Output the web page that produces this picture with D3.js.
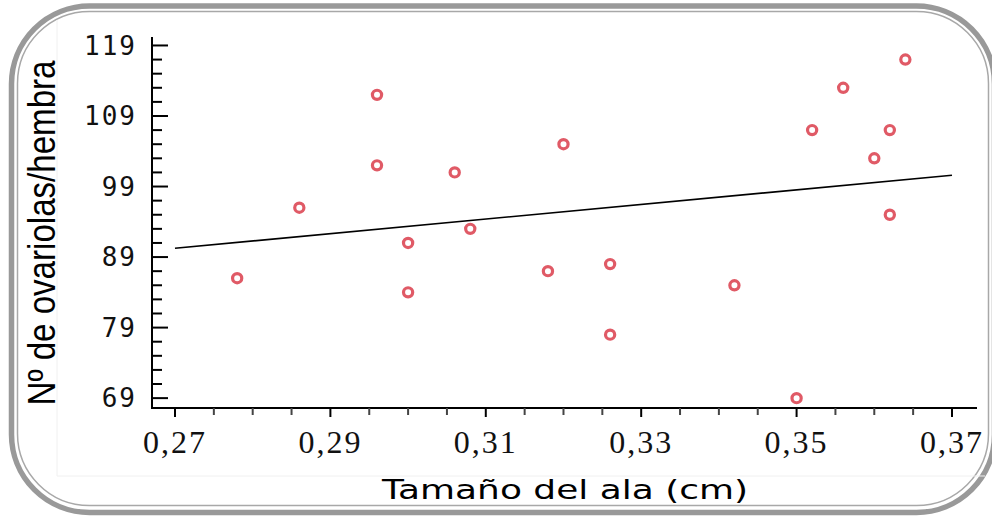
<!DOCTYPE html>
<html>
<head>
<meta charset="utf-8">
<script src="https://cdn.jsdelivr.net/npm/d3@7/dist/d3.min.js"></script>
<style>
  html, body { margin: 0; padding: 0; background: #fff; }
  svg { display: block; }
</style>
</head>
<body>
<svg id="chart"></svg>
<script>
// wing size (cm) vs ovarioles per female
const wingSize = [0.278, 0.286, 0.296, 0.296, 0.300, 0.300, 0.306, 0.308, 0.318, 0.320,
                  0.326, 0.326, 0.342, 0.350, 0.352, 0.356, 0.360, 0.362, 0.362, 0.364];
const ovarioles = [86, 96, 112, 102, 91, 84, 101, 93, 87, 105,
                   88, 78, 85, 69, 107, 113, 103, 107, 95, 117];
// fitted line, read at both ends
const fitX = [0.27, 0.37];
const fitY = [90.25, 100.6];
const yTicks = [69, 79, 89, 99, 109, 119];
const xTicks = [0.27, 0.29, 0.31, 0.33, 0.35, 0.37];

const width = 992, height = 517;
const svg = d3.select("#chart").attr("width", width).attr("height", height);

// rounded double frame
svg.append("rect")
    .attr("x", 11.5).attr("y", 6).attr("width", 983).attr("height", 506.5)
    .attr("rx", 78).attr("ry", 78)
    .attr("fill", "none").attr("stroke", "#999").attr("stroke-width", 5.5);
svg.append("rect")
    .attr("x", 17.5).attr("y", 11.5).attr("width", 971).attr("height", 494)
    .attr("rx", 72).attr("ry", 72)
    .attr("fill", "none").attr("stroke", "#a8a8a8").attr("stroke-width", 1.5);

// faint edge of the pasted chart image
svg.append("path")
    .attr("d", "M57,20 V476 H985")
    .attr("fill", "none").attr("stroke", "#f0f0f0").attr("stroke-width", 1);

const x = d3.scaleLinear().domain([0.26704, 0.37322]).range([152, 977]);
const y = d3.scaleLinear().domain([67.6, 120.2]).range([408, 37]);

// axis lines
svg.append("line")
    .attr("x1", x.range()[0]).attr("x2", x.range()[0])
    .attr("y1", y.range()[1]).attr("y2", y.range()[0])
    .attr("stroke", "#000").attr("stroke-width", 2);
svg.append("line")
    .attr("x1", x.range()[0] - 1).attr("x2", x.range()[1])
    .attr("y1", y.range()[0]).attr("y2", y.range()[0])
    .attr("stroke", "#000").attr("stroke-width", 2);

// y ticks: every 2, major every 10
const yMinor = d3.range(69, 119.5, 2);
svg.append("g").selectAll("line").data(yMinor).join("line")
    .attr("x1", x.range()[0])
    .attr("x2", d => x.range()[0] + (yTicks.includes(d) ? 16 : 10))
    .attr("y1", d => y(d)).attr("y2", d => y(d))
    .attr("stroke", "#000").attr("stroke-width", 2);

svg.append("g").selectAll("text").data(yTicks).join("text")
    .attr("x", 137).attr("y", d => y(d))
    .attr("dy", "0.36em")
    .attr("text-anchor", "end")
    .attr("font-family", "'DejaVu Sans Mono', monospace")
    .attr("font-size", 26)
    .attr("letter-spacing", 2)
    .attr("fill", "#111")
    .text(d => d);

// x ticks: every 0.005, labelled every 0.02
const xMinor = d3.range(0, 21).map(i => +(0.27 + i * 0.005).toFixed(3));
const isMajor = d => xTicks.some(t => Math.abs(t - d) < 1e-6);
svg.append("g").selectAll("line").data(xMinor).join("line")
    .attr("x1", d => x(d)).attr("x2", d => x(d))
    .attr("y1", y.range()[0])
    .attr("y2", d => y.range()[0] + (isMajor(d) ? 9 : 7))
    .attr("stroke", d => isMajor(d) ? "#000" : "#444")
    .attr("stroke-width", 2);

svg.append("g").selectAll("text").data(xTicks).join("text")
    .attr("x", d => x(d)).attr("y", 453)
    .attr("text-anchor", "middle")
    .attr("font-family", "'Liberation Serif', 'Times New Roman', serif")
    .attr("font-size", 32)
    .attr("letter-spacing", 2)
    .attr("fill", "#111")
    .text(d => d.toFixed(2).replace(".", ","));

// axis titles
svg.append("text")
    .attr("transform", "translate(55,233) rotate(-90)")
    .attr("text-anchor", "middle")
    .attr("font-family", "'Liberation Sans', Arial, sans-serif")
    .attr("font-size", 38)
    .attr("textLength", 345)
    .attr("lengthAdjust", "spacingAndGlyphs")
    .attr("fill", "#000")
    .text("Nº de ovariolas/hembra");

svg.append("text")
    .attr("x", 565).attr("y", 499)
    .attr("text-anchor", "middle")
    .attr("font-family", "'DejaVu Sans', Verdana, sans-serif")
    .attr("font-size", 27)
    .attr("textLength", 366)
    .attr("lengthAdjust", "spacingAndGlyphs")
    .attr("fill", "#000")
    .text("Tamaño del ala (cm)");

// fitted line
const line = d3.line().x(d => x(d[0])).y(d => y(d[1]));
svg.append("path")
    .datum(d3.zip(fitX, fitY))
    .attr("d", line)
    .attr("fill", "none").attr("stroke", "#000").attr("stroke-width", 1.6);

// points
svg.append("g").selectAll("circle").data(d3.zip(wingSize, ovarioles)).join("circle")
    .attr("cx", d => x(d[0])).attr("cy", d => y(d[1]))
    .attr("r", 4.6)
    .attr("fill", "#fff")
    .attr("stroke", "#e05a66").attr("stroke-width", 3.2);
</script>
</body>
</html>
